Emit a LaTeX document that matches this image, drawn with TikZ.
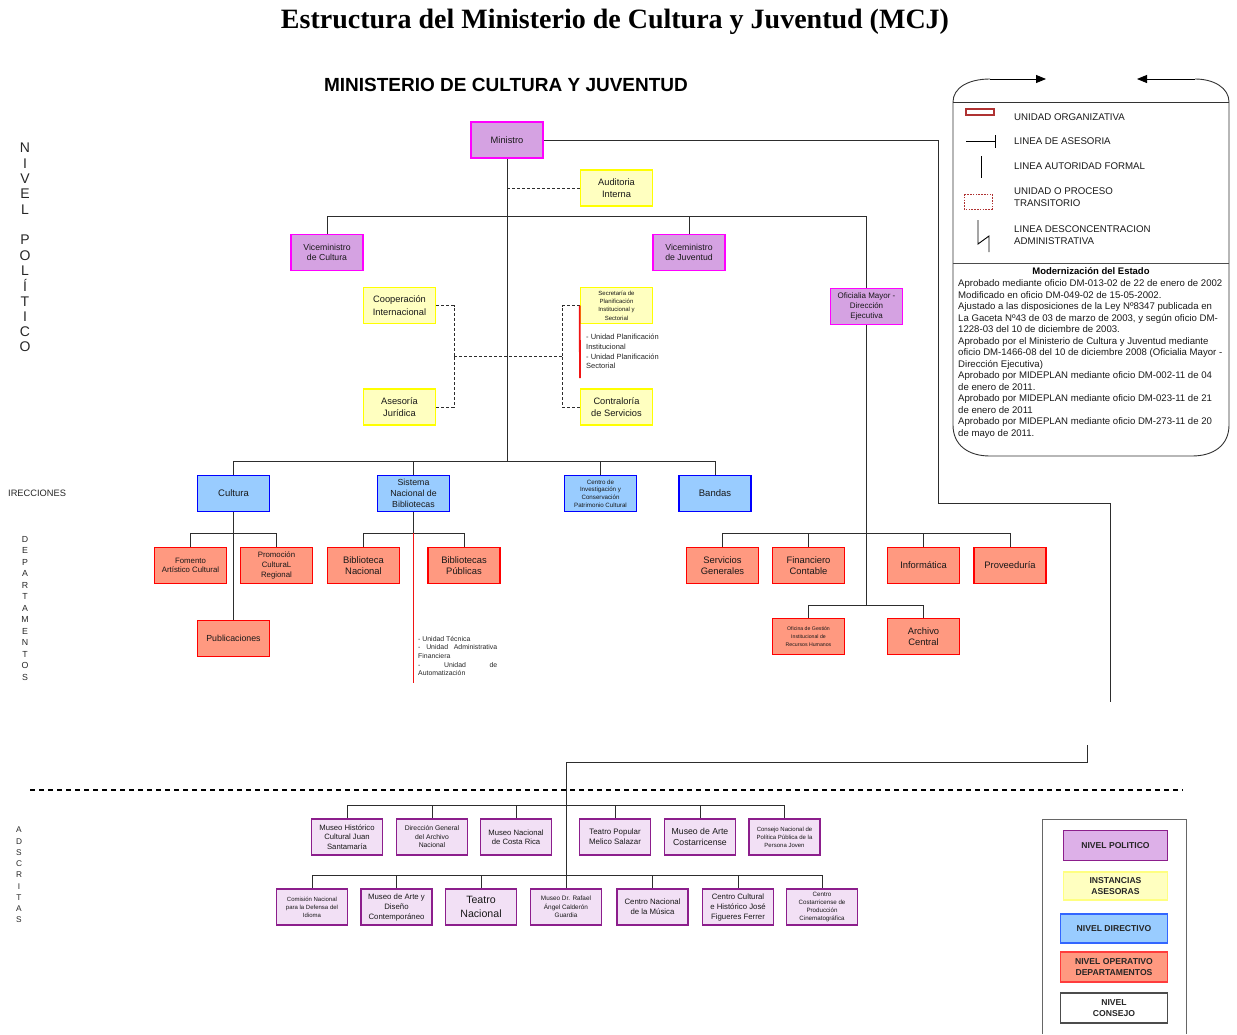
\documentclass[tikz,border=0pt]{standalone}
\usepackage{fontspec}
\setmainfont{Liberation Sans}
\newfontfamily\titlefont{Liberation Serif}
\usetikzlibrary{arrows.meta}
\newcommand\myfs[2]{\fontsize{#1}{#2}\selectfont}
\definecolor{polfill}{RGB}{213,162,226}
\definecolor{polline}{RGB}{255,0,255}
\definecolor{asefill}{RGB}{255,255,192}
\definecolor{aseline}{RGB}{255,255,0}
\definecolor{dirfill}{RGB}{153,204,255}
\definecolor{dirline}{RGB}{0,0,255}
\definecolor{opfill}{RGB}{255,153,128}
\definecolor{opline}{RGB}{255,0,0}
\definecolor{adfill}{RGB}{242,224,245}
\definecolor{adline}{RGB}{140,30,140}
\definecolor{conncol}{RGB}{45,45,45}
\definecolor{legred}{RGB}{175,50,50}
\definecolor{notered}{RGB}{240,20,20}
\tikzset{
  basebox/.style={rectangle, line width=1.6pt, minimum width=72pt, minimum height=36pt, inner sep=1pt, align=center, text=black!90},
  polbox/.style={basebox, draw=polline, fill=polfill},
  asebox/.style={basebox, draw=aseline, fill=asefill},
  dirbox/.style={basebox, draw=dirline, fill=dirfill},
  opbox/.style={basebox, draw=opline, fill=opfill},
  adbox/.style={basebox, draw=adline, fill=adfill, minimum width=71pt},
  legbox/.style={rectangle, line width=1.4pt, inner sep=1pt, align=center, font=\bfseries\myfs{8.6}{11}, text=black!85},
  connline/.style={draw=conncol, line width=1pt},
  advline/.style={draw=conncol, line width=1pt, dash pattern=on 3pt off 2pt},
  redline/.style={draw=notered, line width=1.8pt},
  vlet/.style={inner sep=0pt, text=black!85},
}
\begin{document}
\begin{tikzpicture}[x=1pt,y=-1pt]
\useasboundingbox (0,0) rectangle (1237,1034);

% titles
\node[font=\titlefont\bfseries\myfs{28}{31}] (title) at (615,22) {Estructura del Ministerio de Cultura y Juventud (MCJ)};
\node[font=\bfseries\myfs{19}{22}] (subtitle) at (506,85) {MINISTERIO DE CULTURA Y JUVENTUD};

% vertical labels
\foreach \l [count=\i] in {N,I,V,E,L}
  \node[vlet, font=\myfs{14}{16}] (nv\i) at (25,{148+(\i-1)*15.3}) {\l};
\foreach \l [count=\i] in {P,O,L,Í,T,I,C,O}
  \node[vlet, font=\myfs{14}{16}] (np\i) at (25,{240+(\i-1)*15.3}) {\l};
\foreach \l [count=\i] in {D,E,P,A,R,T,A,M,E,N,T,O,S}
  \node[vlet, font=\myfs{8.8}{10}] (dp\i) at (25,{539+(\i-1)*11.5}) {\l};
\foreach \l [count=\i] in {A,D,S,C,R,I,T,A,S}
  \node[vlet, font=\myfs{8.3}{10}] (ad\i) at (19,{830+(\i-1)*11.25}) {\l};
\node[anchor=west, inner sep=0pt, font=\myfs{9.3}{11}, text=black!85] (irec) at (8,493) {IRECCIONES};

% political and advisory level
\node[polbox, font=\myfs{9.3}{11}] (min) at (507,140) {Ministro};
\node[asebox, font=\myfs{9.3}{12}] (aud) at (616.5,188) {Auditoria\\Interna};
\node[polbox, font=\myfs{8.7}{10.7}] (vmc) at (327,252.5) {Viceministro\\de Cultura};
\node[polbox, font=\myfs{8.7}{10.7}] (vmj) at (689,252.5) {Viceministro\\de Juventud};
\node[polbox, font=\myfs{8}{9.7}] (ofm) at (866.5,306.5) {Oficialia Mayor -\\Dirección\\Ejecutiva};
\node[asebox, font=\myfs{9.3}{12.3}] (coop) at (399.5,305.5) {Cooperación\\Internacional};
\node[asebox, font=\myfs{9.3}{12}] (ases) at (399.5,407) {Asesoría\\Jurídica};
\node[asebox, font=\myfs{6}{8.3}] (secp) at (616.5,305.5) {Secretaría de\\Planificación\\Institucional y\\Sectorial};
\node[asebox, font=\myfs{9.3}{12}] (contr) at (616.5,407) {Contraloría\\de Servicios};
\node[anchor=north west, align=left, inner sep=0pt, font=\myfs{7.5}{9.7}, text=black!85] (secnote) at (586,334) {- Unidad Planificación\\Institucional\\- Unidad Planificación\\Sectorial};

% directions
\node[dirbox, font=\myfs{9.5}{11}] (cult) at (233.5,493.5) {Cultura};
\node[dirbox, font=\myfs{8.8}{11}] (snb) at (413.5,493.5) {Sistema\\Nacional de\\Bibliotecas};
\node[dirbox, font=\myfs{6.2}{7.7}] (cicpc) at (600.5,493.5) {Centro de\\Investigación y\\Conservación\\Patrimonio Cultural};
\node[dirbox, font=\myfs{9.5}{11}] (band) at (715,493.5) {Bandas};

% departments
\node[opbox, font=\myfs{7.8}{9.5}] (fom) at (190.5,565.5) {Fomento\\Artístico Cultural};
\node[opbox, font=\myfs{7.8}{10}] (prom) at (276.5,565.5) {Promoción\\CulturaL\\Regional};
\node[opbox, font=\myfs{8.8}{10}] (pub) at (233.5,638.5) {Publicaciones};
\node[opbox, font=\myfs{9.4}{11.5}] (bibn) at (363.5,565.5) {Biblioteca\\Nacional};
\node[opbox, font=\myfs{9.4}{11.5}] (bibp) at (464,565.5) {Bibliotecas\\Públicas};
\node[anchor=north west, align=left, inner sep=0pt, font=\myfs{6.9}{8.6}, text=black!85] (snbnote) at (418,636) {- Unidad Técnica\\\makebox[79pt][s]{- Unidad Administrativa}\\Financiera\\\makebox[79pt][s]{- Unidad de}\\Automatización};
\node[opbox, font=\myfs{9.4}{11.5}] (sg) at (722.5,565.5) {Servicios\\Generales};
\node[opbox, font=\myfs{9.4}{11.5}] (fc) at (808.5,565.5) {Financiero\\Contable};
\node[opbox, font=\myfs{9.4}{11.5}] (inf) at (923.5,565.5) {Informática};
\node[opbox, font=\myfs{9.4}{11.5}] (prov) at (1010,565.5) {Proveeduría};
\node[opbox, font=\myfs{5.2}{8}] (ogirh) at (808.5,636.5) {Oficina de Gestión\\Institucional de\\Recursos Humanos};
\node[opbox, font=\myfs{9.4}{11.5}] (arch) at (923.5,636.5) {Archivo\\Central};

% adscritas
\node[adbox, font=\myfs{7.7}{9.5}] (a1) at (347,837) {Museo Histórico\\Cultural Juan\\Santamaría};
\node[adbox, font=\myfs{6.8}{8.5}] (a2) at (432,837) {Dirección General\\del Archivo\\Nacional};
\node[adbox, font=\myfs{7.7}{9.5}] (a3) at (516,837) {Museo Nacional\\de Costa Rica};
\node[adbox, font=\myfs{7.9}{10}] (a4) at (615,837) {Teatro Popular\\Melico Salazar};
\node[adbox, font=\myfs{8.7}{11}] (a5) at (700,837) {Museo de Arte\\Costarricense};
\node[adbox, font=\myfs{6}{8}] (a6) at (784.5,837) {Consejo Nacional de\\Política Pública de la\\Persona Joven};
\node[adbox, font=\myfs{6}{8}] (b1) at (312,907) {Comisión Nacional\\para la Defensa del\\Idioma};
\node[adbox, font=\myfs{7.8}{10}] (b2) at (396.5,907) {Museo de Arte y\\Diseño\\Contemporáneo};
\node[adbox, font=\myfs{10.6}{13.5}] (b3) at (481,907) {Teatro\\Nacional};
\node[adbox, font=\myfs{6.4}{8.5}] (b4) at (566,907) {Museo Dr. Rafael\\Ángel Calderón\\Guardia};
\node[adbox, font=\myfs{7.8}{10}] (b5) at (652.5,907) {Centro Nacional\\de la Música};
\node[adbox, font=\myfs{7.8}{10}] (b6) at (738,907) {Centro Cultural\\e Histórico José\\Figueres Ferrer};
\node[adbox, font=\myfs{6.2}{7.9}] (b7) at (822,907) {Centro\\Costarricense de\\Producción\\Cinematográfica};

% bus coordinates
\coordinate (audc) at (507,188);
\coordinate (busV) at (507,216);
\coordinate (lq) at (454,356);
\coordinate (rq) at (562,356);
\coordinate (secred) at (580,378);
\coordinate (busD) at (507,461);
\coordinate (cb) at (233.5,533);
\coordinate (snbbus) at (413.5,533);
\coordinate (snbend) at (413.5,683);
\coordinate (ob1) at (866.5,533);
\coordinate (ob2) at (866.5,605);
\coordinate (rA) at (938,503);
\coordinate (rB) at (1110,503);
\coordinate (rEnd) at (1110,702);
\coordinate (sA) at (1087,745);
\coordinate (sB) at (1087,762);
\coordinate (adsTop) at (566,762);
\coordinate (adsBus1) at (566,805);
\coordinate (adsBus2) at (566,875);
\coordinate (sepL) at (30,790);
\coordinate (sepR) at (1183,790);

% connectors: political level
\draw[connline] (min.south) -- (busD);
\draw[connline] (busV) -| (vmc.north);
\draw[connline] (busV) -| (vmj.north);
\draw[connline] (busV) -| (ofm.north);
\draw[advline] (audc) -- (aud.west);
\draw[advline] (coop.east) -| (lq);
\draw[advline] (ases.east) -| (lq);
\draw[advline] (lq) -- (rq);
\draw[advline] (secp.west) -| (rq);
\draw[advline] (contr.west) -| (rq);
\draw[redline] (secp.west) -- (secred);
\draw[connline] (min.east) -| (rA) -- (rB) -- (rEnd);

% directions
\draw[connline] (busD) -| (cult.north);
\draw[connline] (busD) -| (snb.north);
\draw[connline] (busD) -| (cicpc.north);
\draw[connline] (busD) -| (band.north);

% departments
\draw[connline] (cult.south) -- (pub.north);
\draw[connline] (cb) -| (fom.north);
\draw[connline] (cb) -| (prom.north);
\draw[connline] (snbbus) -| (bibn.north);
\draw[connline] (snbbus) -| (bibp.north);
\draw[connline] (snb.south) -- (snbbus);
\draw[redline] (snbbus) -- (snbend);
\draw[connline] (ofm.south) -- (ob2);
\draw[connline] (ob1) -| (sg.north);
\draw[connline] (ob1) -| (fc.north);
\draw[connline] (ob1) -| (inf.north);
\draw[connline] (ob1) -| (prov.north);
\draw[connline] (ob2) -| (ogirh.north);
\draw[connline] (ob2) -| (arch.north);

% adscritas
\draw[connline] (sA) -- (sB) -- (adsTop) -- (adsBus2);
\foreach \n in {a1,a2,a3,a4,a5,a6} \draw[connline] (adsBus1) -| (\n.north);
\foreach \n in {b1,b2,b3,b4,b5,b6,b7} \draw[connline] (adsBus2) -| (\n.north);
\draw[draw=black, line width=2.2pt, dash pattern=on 5pt off 4pt] (sepL) -- (sepR);

% top-right legend frame
\draw[line width=0.9pt, draw=black!80] (953,102) .. controls (953,88) and (968,79) .. (990,79);
\draw[line width=0.9pt, draw=black, -{Triangle[length=10pt,width=8pt]}] (990,79) -- (1046,79);
\draw[line width=0.9pt, draw=black!80] (1229,102) .. controls (1229,88) and (1214,79) .. (1195,79);
\draw[line width=0.9pt, draw=black, -{Triangle[length=10pt,width=8pt]}] (1195,79) -- (1137,79);
\draw[line width=0.9pt, draw=black!80] (953,102) -- (1229,102);
\draw[line width=0.9pt, draw=black!80] (953,102) -- (953,425) .. controls (953,445) and (968,456) .. (990,456) -- (1192,456) .. controls (1214,456) and (1229,445) .. (1229,425) -- (1229,102);
\draw[line width=0.9pt, draw=black!70] (953,263) -- (1229,263);

% legend symbols
\draw[draw=legred, line width=1.1pt] (966,109) rectangle (994,115);
\draw[line width=0.9pt] (966,141) -- (995,141);
\draw[line width=0.9pt] (995,135) -- (995,148);
\draw[line width=0.9pt] (981,156) -- (981,178);
\draw[draw=legred, line width=0.8pt, dash pattern=on 1.6pt off 1.2pt] (964,194) rectangle (992,209);
\draw[line width=0.9pt] (978,220) -- (978,244) -- (989,236) -- (989,252);
\begin{scope}[every node/.style={anchor=west, inner sep=0pt, font=\myfs{9.7}{12}, text=black!90}]
\node (lg1) at (1014,117) {UNIDAD ORGANIZATIVA};
\node (lg2) at (1014,141) {LINEA DE ASESORIA};
\node (lg3) at (1014,166) {LINEA AUTORIDAD FORMAL};
\node (lg4) at (1014,191) {UNIDAD O PROCESO};
\node (lg5) at (1014,203) {TRANSITORIO};
\node (lg6) at (1014,229) {LINEA DESCONCENTRACION};
\node (lg7) at (1014,241) {ADMINISTRATIVA};
\end{scope}
\node[font=\bfseries\myfs{9.5}{11}, inner sep=0pt] (modh) at (1091,271) {Modernización del Estado};
\foreach \t [count=\i] in {
  {Aprobado mediante oficio DM-013-02 de 22 de enero de 2002},
  {Modificado en oficio DM-049-02 de 15-05-2002.},
  {Ajustado a las disposiciones de la Ley Nº8347 publicada en},
  {La Gaceta Nº43 de 03 de marzo de 2003, y según oficio DM-},
  {1228-03 del 10 de diciembre de 2003.},
  {Aprobado por el Ministerio de Cultura y Juventud mediante},
  {oficio DM-1466-08 del 10 de diciembre 2008 (Oficialia Mayor -},
  {Dirección Ejecutiva)},
  {Aprobado por MIDEPLAN mediante oficio DM-002-11 de 04},
  {de enero de 2011.},
  {Aprobado por MIDEPLAN mediante oficio DM-023-11 de 21},
  {de enero de 2011},
  {Aprobado por MIDEPLAN mediante oficio DM-273-11 de 20},
  {de mayo de 2011.}}
  \node[anchor=base west, inner sep=0pt, font=\myfs{9.6}{11}, text=black!90] (mod\i) at (958,{286.5+(\i-1)*11.5}) {\t};

% bottom-right legend
\draw[draw=black!60, line width=1pt] (1042,1034) -- (1042,819) -- (1186,819) -- (1186,1034);
\node[legbox, draw={rgb,255:red,140;green,30;blue,140}, fill={rgb,255:red,221;green,176;blue,232}, minimum width=104pt, minimum height=30pt] (lpol) at (1115.5,845.5) {NIVEL POLITICO};
\node[legbox, draw={rgb,255:red,255;green,255;blue,128}, fill=asefill, minimum width=104pt, minimum height=28pt] (lase) at (1115.5,886) {INSTANCIAS\\ASESORAS};
\node[legbox, draw={rgb,255:red,51;green,102;blue,255}, fill=dirfill, minimum width=107pt, minimum height=29pt] (ldir) at (1114,928.5) {NIVEL DIRECTIVO};
\node[legbox, draw={rgb,255:red,255;green,60;blue,60}, fill=opfill, minimum width=107pt, minimum height=30pt] (lop) at (1114,967) {NIVEL OPERATIVO\\DEPARTAMENTOS};
\node[legbox, draw=black!70, fill=white, minimum width=107pt, minimum height=30pt] (lcon) at (1114,1008) {NIVEL\\CONSEJO};
\end{tikzpicture}
\end{document}
